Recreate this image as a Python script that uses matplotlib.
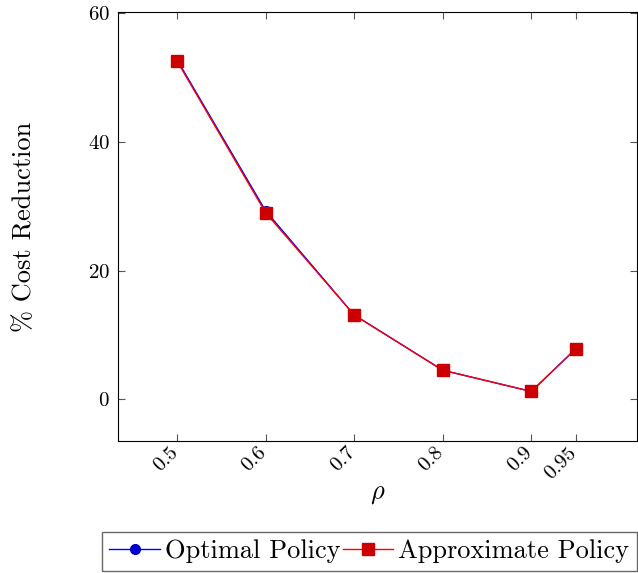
import matplotlib
matplotlib.use('Agg')
import matplotlib.pyplot as plt
from matplotlib.transforms import ScaledTranslation

plt.rcParams['font.family'] = ['cmr10', 'DejaVu Serif']
plt.rcParams['mathtext.fontset'] = 'cm'
plt.rcParams['axes.formatter.use_mathtext'] = True

rho = [0.5, 0.6, 0.7, 0.8, 0.9, 0.95]
rho_labels = ['0.5', '0.6', '0.7', '0.8', '0.9', '0.95']
optimal = [52.8, 29.3, 13.1, 4.5, 1.2, 7.8]
approx = [52.6, 29.0, 13.1, 4.5, 1.2, 7.8]

fig = plt.figure(figsize=(6.38, 5.73), dpi=100)
ax = fig.add_axes([0.185, 0.2304, 0.813, 0.7486])

ax.plot(rho, optimal, color='blue', linewidth=1, marker='o', markersize=7,
        markerfacecolor='#0000cc', markeredgecolor='#0000cc', label='Optimal Policy')
ax.plot(rho, approx, color='red', linewidth=1, marker='s', markersize=8,
        markerfacecolor='#cc0000', markeredgecolor='#cc0000', label='Approximate Policy')

ax.set_xlim(0.4335, 1.019)
ax.set_ylim(-6.5, 60.2)
ax.set_xticks(rho)
ax.set_xticklabels(rho_labels, rotation=45, ha='right', rotation_mode='anchor')
ax.set_yticks([0, 20, 40, 60])
ax.tick_params(direction='in', top=True, right=True, labelsize=15, length=5,
               color='#555555')
ax.tick_params(axis='x', pad=2)
ax.tick_params(axis='y', pad=6)
# shift rotated labels left a bit, like pgfplots
shift = ScaledTranslation(-6 / 72, 0, fig.dpi_scale_trans)
for lbl in ax.get_xticklabels():
    lbl.set_transform(lbl.get_transform() + shift)
for s in ax.spines.values():
    s.set_linewidth(0.8)

ax.set_xlabel(r'$\rho$', fontsize=19, labelpad=0)
ax.set_ylabel('% Cost Reduction', fontsize=19, labelpad=37)

fig.legend(loc='lower right', bbox_to_anchor=(0.999, 0.003), ncol=2, fontsize=19,
           frameon=True, fancybox=False, edgecolor='#444444', handlelength=1.9,
           handletextpad=0.2, columnspacing=0.1, borderpad=0.3, borderaxespad=0)

fig.savefig('out.png', dpi=100)
